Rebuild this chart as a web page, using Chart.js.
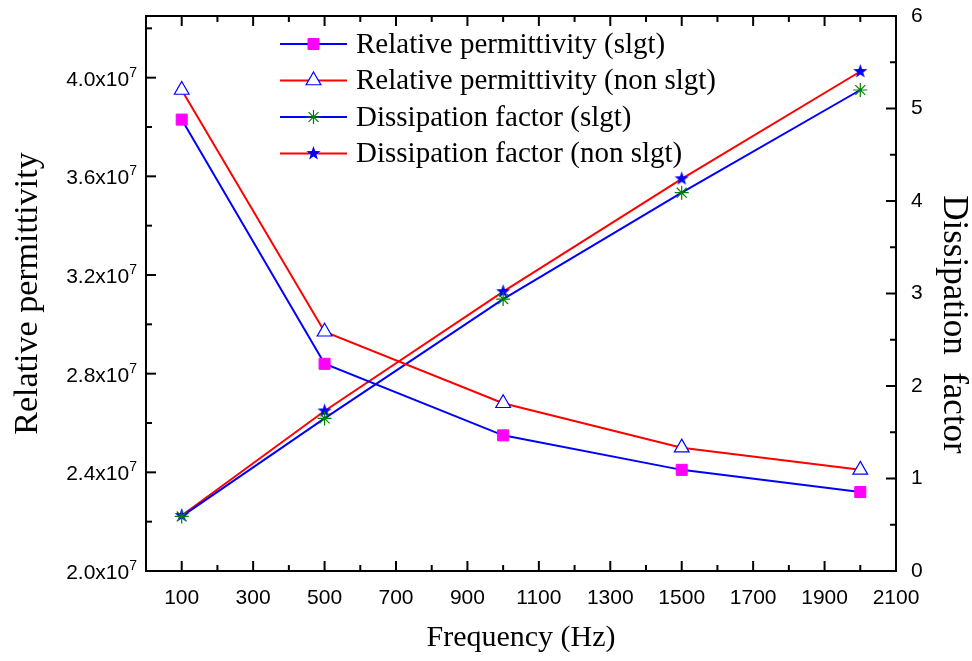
<!DOCTYPE html>
<html>
<head>
<meta charset="utf-8">
<script src="https://cdn.jsdelivr.net/npm/chart.js@4.4.0/dist/chart.umd.min.js"></script>
<style>
  html, body { margin: 0; padding: 0; background: #fff; }
  canvas { display: block; }
</style>
</head>
<body>
<canvas id="c" width="972" height="661"></canvas>
<script>
// values
const frequency = [100, 500, 1000, 1500, 2000];
const permSlgt = [3.83e7, 2.84e7, 2.55e7, 2.41e7, 2.32e7];
const permNonSlgt = [3.95e7, 2.97e7, 2.68e7, 2.50e7, 2.41e7];
const dissSlgt = [0.59, 1.65, 2.94, 4.09, 5.20];
const dissNonSlgt = [0.60, 1.73, 3.02, 4.24, 5.40];

const freqTicks = [100, 300, 500, 700, 900, 1100, 1300, 1500, 1700, 1900, 2100];
const permTicks = [2.0e7, 2.4e7, 2.8e7, 3.2e7, 3.6e7, 4.0e7];
const dissTicks = [0, 1, 2, 3, 4, 5, 6];

const SANS = '"Liberation Sans", Arial, sans-serif';
const TICK_FONT = { family: SANS, size: 21 };
const SERIF = '"Liberation Serif", "Times New Roman", serif';

function makeStar(color, r) {
  const s = Math.ceil(r * 2) + 2;
  const c = document.createElement('canvas');
  c.width = c.height = s;
  const g = c.getContext('2d');
  g.fillStyle = color;
  g.beginPath();
  for (let i = 0; i < 10; i++) {
    const rad = i % 2 ? r * 0.4 : r;
    const a = -Math.PI / 2 + i * Math.PI / 5;
    g.lineTo(s / 2 + rad * Math.cos(a), s / 2 + rad * Math.sin(a));
  }
  g.closePath();
  g.fill();
  return c;
}
const blueStar = makeStar('#0000ff', 7.5);

function minorsOf(ticks, max) {
  const step = ticks[1] - ticks[0];
  return ticks.map(t => t + step / 2).filter(t => t < max + 1e-9);
}

// keep the plot box where the reference has it
function noEdgePadding(s) {
  s.paddingTop = 0; s.paddingBottom = 0; s.paddingLeft = 0; s.paddingRight = 0;
}

// frame, inward ticks, left tick labels with exponent, legend, right title
const decorations = {
  id: 'decorations',
  afterDraw(chart) {
    const { ctx, chartArea: a, scales } = chart;
    ctx.save();
    ctx.strokeStyle = '#000';
    ctx.lineWidth = 2;
    ctx.strokeRect(a.left, a.top, a.right - a.left, a.bottom - a.top);

    const tick = (x1, y1, x2, y2) => {
      ctx.beginPath(); ctx.moveTo(x1, y1); ctx.lineTo(x2, y2); ctx.stroke();
    };
    const x = scales.x, y = scales.y, y2 = scales.y2;
    freqTicks.forEach(v => {
      const p = x.getPixelForValue(v);
      tick(p, a.bottom, p, a.bottom - 10);
      tick(p, a.top, p, a.top + 10);
    });
    minorsOf(freqTicks, x.max).forEach(v => {
      const p = x.getPixelForValue(v);
      tick(p, a.bottom, p, a.bottom - 6);
      tick(p, a.top, p, a.top + 6);
    });
    permTicks.forEach(v => { const p = y.getPixelForValue(v); tick(a.left, p, a.left + 10, p); });
    minorsOf(permTicks, y.max).forEach(v => { const p = y.getPixelForValue(v); tick(a.left, p, a.left + 6, p); });
    dissTicks.forEach(v => { const p = y2.getPixelForValue(v); tick(a.right, p, a.right - 10, p); });
    minorsOf(dissTicks, y2.max).forEach(v => { const p = y2.getPixelForValue(v); tick(a.right, p, a.right - 6, p); });

    // left tick labels: mantissa x10 with raised exponent
    ctx.fillStyle = '#000';
    ctx.textBaseline = 'alphabetic';
    permTicks.forEach(v => {
      const p = y.getPixelForValue(v);
      ctx.font = '14px ' + SANS;
      ctx.textAlign = 'right';
      ctx.fillText('7', a.left - 9, p - 1);
      const ew = ctx.measureText('7').width;
      ctx.font = '21px ' + SANS;
      ctx.fillText((v / 1e7).toFixed(1) + 'x10', a.left - 9 - ew, p + 8);
    });

    // legend
    const lx = 280, lw = 67, rowY = 44, rowH = 36.5;
    chart.data.datasets.forEach((ds, i) => {
      const yy = rowY + i * rowH;
      ctx.strokeStyle = ds.borderColor;
      ctx.lineWidth = ds.borderWidth;
      tick(lx, yy, lx + lw, yy);
      ctx.fillStyle = ds.pointBackgroundColor;
      ctx.strokeStyle = ds.pointBorderColor;
      ctx.lineWidth = ds.pointBorderWidth;
      Chart.helpers.drawPoint(ctx, {
        pointStyle: ds.pointStyle, radius: ds.pointRadius, rotation: 0, borderWidth: ds.pointBorderWidth
      }, lx + lw / 2, yy);
      ctx.fillStyle = '#000';
      ctx.font = '29px ' + SERIF;
      ctx.textAlign = 'left';
      ctx.textBaseline = 'middle';
      ctx.fillText(ds.label, lx + lw + 9, yy + 1);
    });

    // right axis title
    ctx.translate(953, (a.top + a.bottom) / 2 + 31);
    ctx.rotate(Math.PI / 2);
    ctx.font = '35px ' + SERIF;
    ctx.textAlign = 'center';
    ctx.textBaseline = 'middle';
    ctx.fillStyle = '#000';
    ctx.fillText('Dissipation  factor', 0, 0);
    ctx.restore();
  }
};

new Chart(document.getElementById('c'), {
  type: 'line',
  data: {
    datasets: [
      {
        label: 'Relative permittivity (slgt)',
        data: frequency.map((f, i) => ({ x: f, y: permSlgt[i] })),
        yAxisID: 'y',
        borderColor: '#0000ff', borderWidth: 2,
        pointStyle: 'rect', pointRadius: 7.8,
        pointBackgroundColor: '#ff00ff', pointBorderColor: '#ff00ff', pointBorderWidth: 1
      },
      {
        label: 'Relative permittivity (non slgt)',
        data: frequency.map((f, i) => ({ x: f, y: permNonSlgt[i] })),
        yAxisID: 'y',
        borderColor: '#ff0000', borderWidth: 2,
        pointStyle: 'triangle', pointRadius: 8.5,
        pointBackgroundColor: '#ffffff', pointBorderColor: '#0000ff', pointBorderWidth: 1.2
      },
      {
        label: 'Dissipation factor (slgt)',
        data: frequency.map((f, i) => ({ x: f, y: dissSlgt[i] })),
        yAxisID: 'y2',
        borderColor: '#0000ff', borderWidth: 2,
        pointStyle: 'star', pointRadius: 7,
        pointBackgroundColor: '#008000', pointBorderColor: '#008000', pointBorderWidth: 1.2
      },
      {
        label: 'Dissipation factor (non slgt)',
        data: frequency.map((f, i) => ({ x: f, y: dissNonSlgt[i] })),
        yAxisID: 'y2',
        borderColor: '#ff0000', borderWidth: 2,
        pointStyle: blueStar, pointRadius: 8,
        pointBackgroundColor: '#0000ff', pointBorderColor: '#0000ff', pointBorderWidth: 1
      }
    ]
  },
  options: {
    responsive: false,
    animation: false,
    devicePixelRatio: 1,
    layout: { padding: { top: 16, right: 0, bottom: 0, left: 0 } },
    plugins: { legend: { display: false }, tooltip: { enabled: false } },
    elements: { line: { tension: 0 } },
    scales: {
      x: {
        type: 'linear', min: 0, max: 2100,
        afterBuildTicks: s => { s.ticks = freqTicks.map(v => ({ value: v })); },
        afterFit: s => { s.height = 90; noEdgePadding(s); },
        grid: { display: false }, border: { display: false },
        ticks: { font: TICK_FONT, color: '#000', padding: 7, maxRotation: 0, autoSkip: false,
                 callback: v => String(v) },
        title: {
          display: true, text: 'Frequency (Hz)', color: '#000',
          font: { family: SERIF, size: 30, lineHeight: 1 }, padding: { top: 0, bottom: 8 }
        }
      },
      y: {
        type: 'linear', position: 'left', min: 2.0e7, max: 4.25e7,
        afterBuildTicks: s => { s.ticks = permTicks.map(v => ({ value: v })); },
        afterFit: s => { s.width = 146; noEdgePadding(s); },
        grid: { display: false }, border: { display: false },
        ticks: { font: TICK_FONT, color: 'rgba(0,0,0,0)', padding: 9, callback: () => '' },
        title: {
          display: true, text: 'Relative permittivity', color: '#000',
          font: { family: SERIF, size: 34, lineHeight: 1 }, padding: { top: 11, bottom: 0 }
        }
      },
      y2: {
        type: 'linear', position: 'right', min: 0, max: 6,
        afterBuildTicks: s => { s.ticks = dissTicks.map(v => ({ value: v })); },
        afterFit: s => { s.width = 76; noEdgePadding(s); },
        grid: { display: false }, border: { display: false },
        ticks: { font: TICK_FONT, color: '#000', padding: 7 }
      }
    }
  },
  plugins: [decorations]
});
</script>
</body>
</html>
